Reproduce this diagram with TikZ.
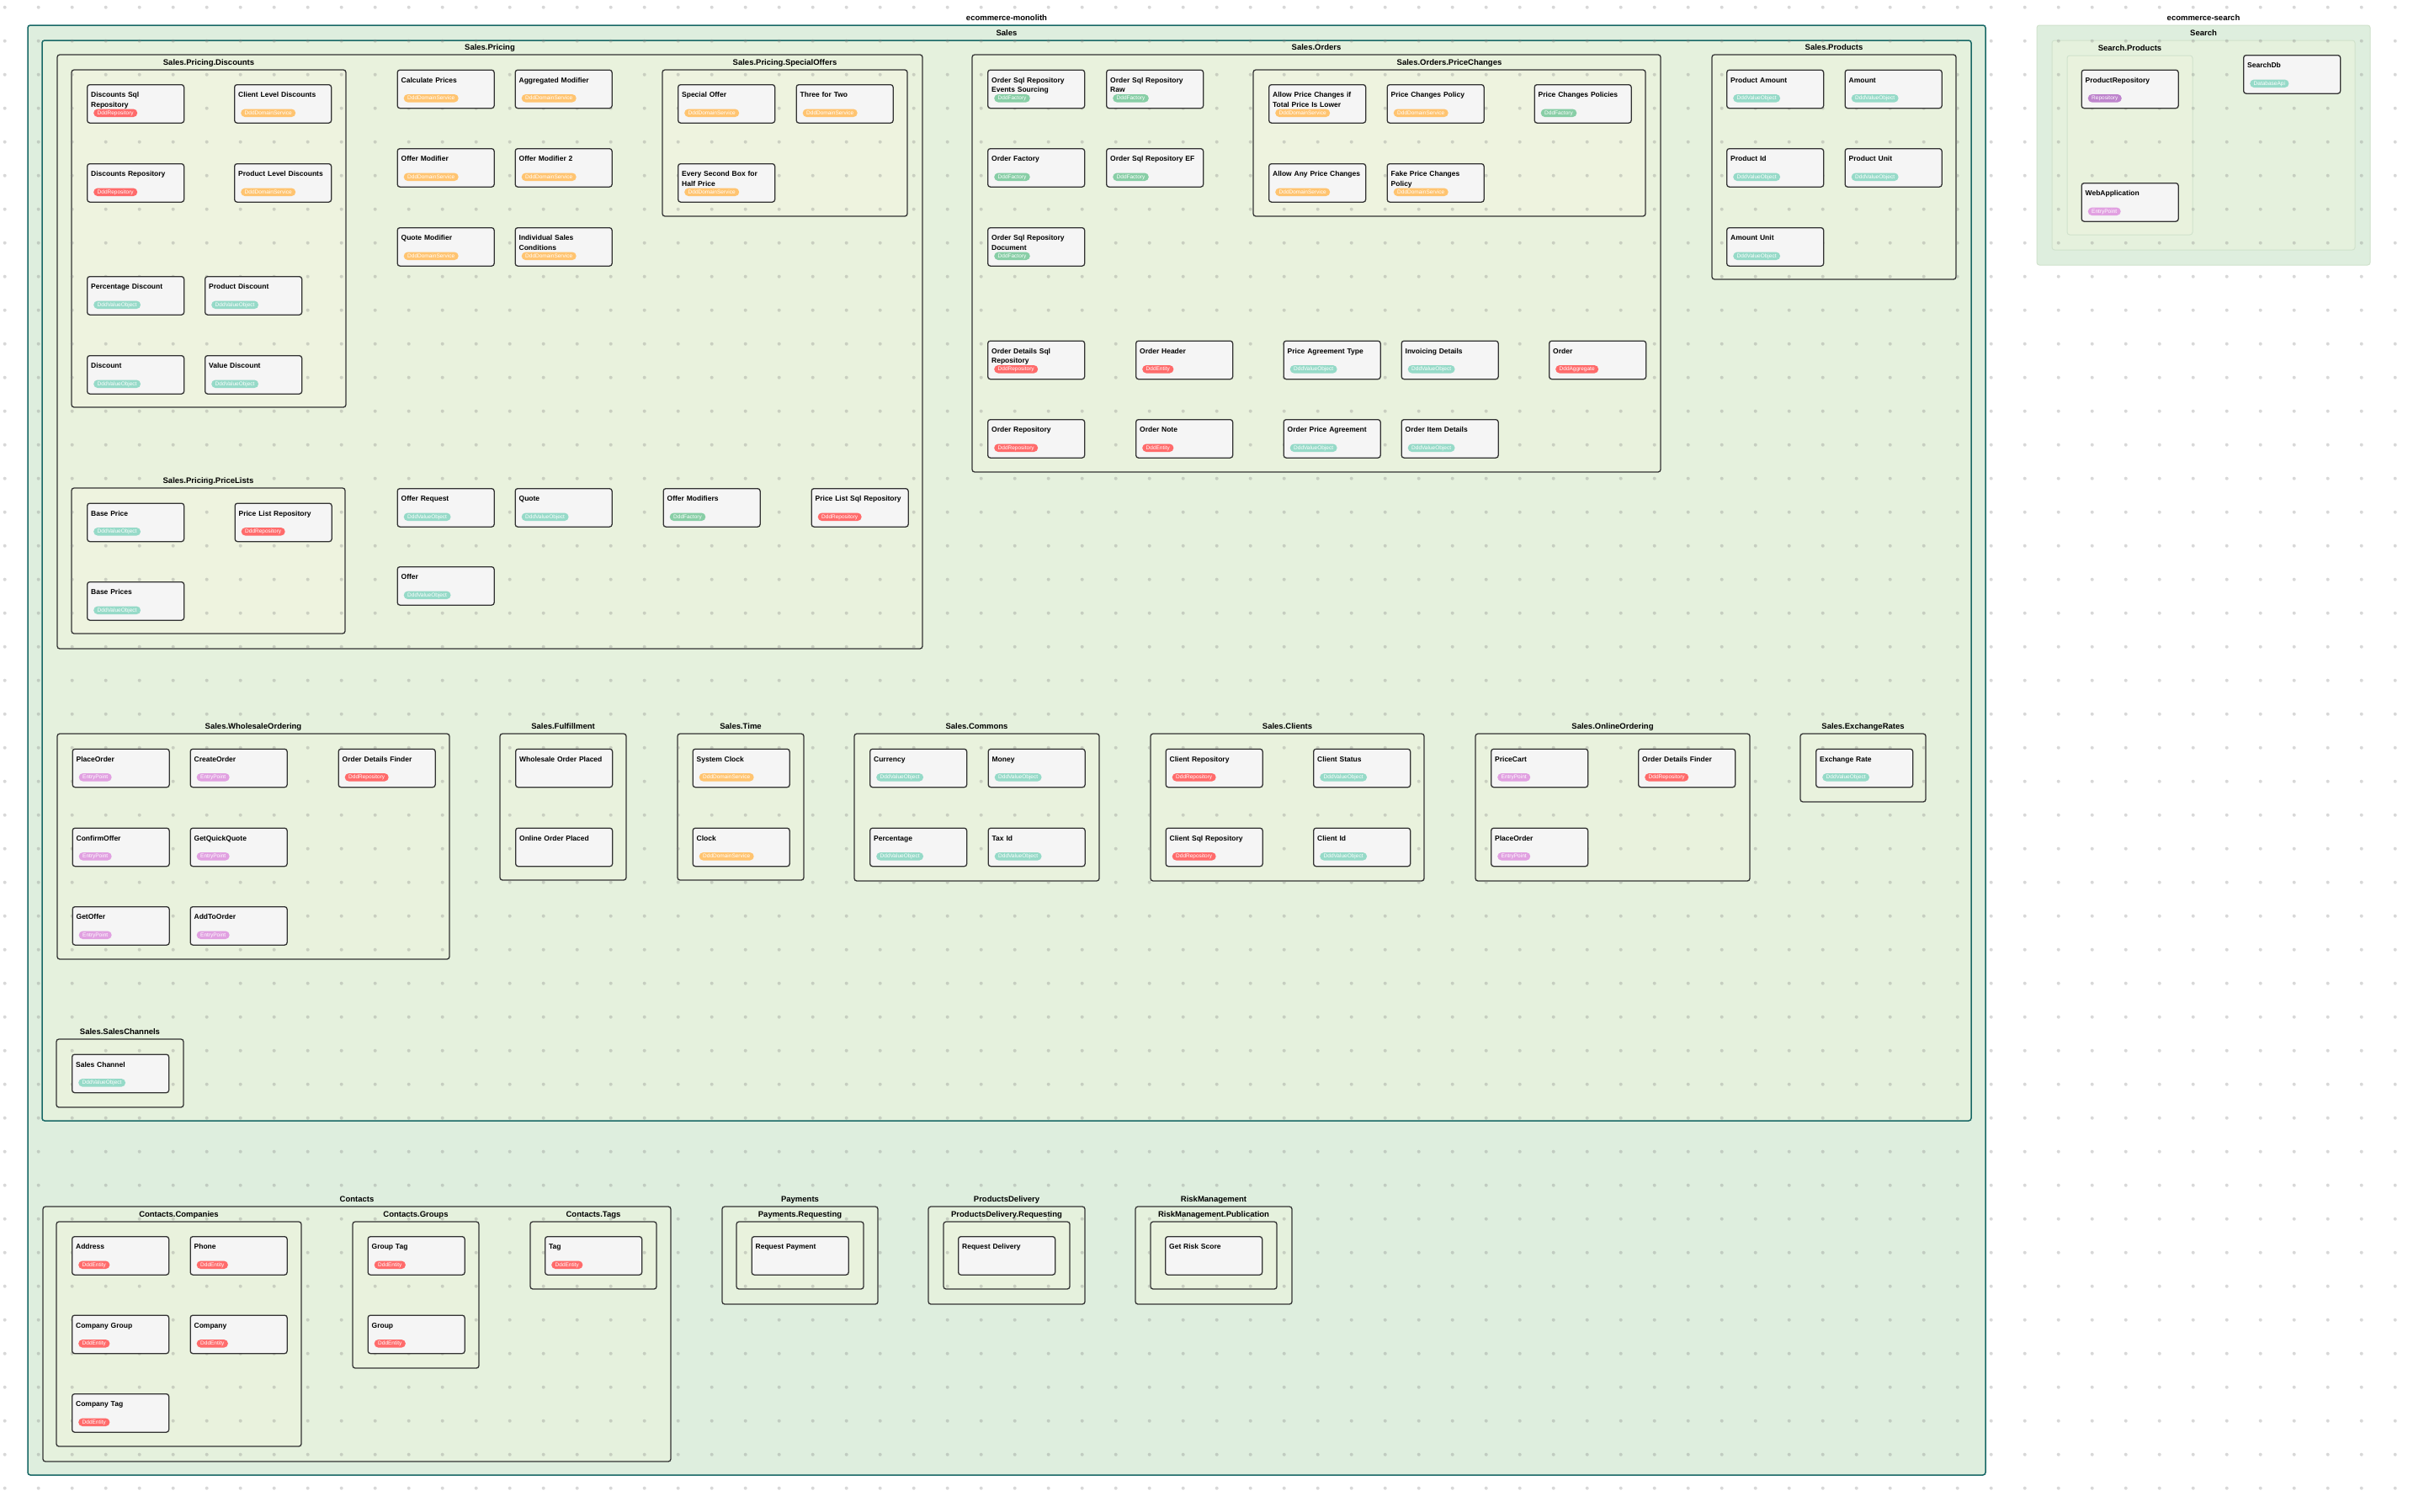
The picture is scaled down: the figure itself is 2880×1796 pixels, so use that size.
\documentclass[tikz,border=0pt]{standalone}
\usepackage{fontspec}
\setmainfont{Liberation Sans}
\usepackage{tikz}
\usetikzlibrary{fit, positioning}
\definecolor{tealline}{RGB}{24,104,102}
\definecolor{lvlone}{RGB}{222,238,222}
\definecolor{lvltwo}{RGB}{229,241,221}
\definecolor{lvlthree}{RGB}{233,242,221}
\definecolor{lvlfour}{RGB}{238,243,223}
\definecolor{faintline}{RGB}{208,226,204}
\definecolor{compfill}{RGB}{245,245,245}
\definecolor{tagred}{RGB}{255,107,107}
\definecolor{tagorange}{RGB}{255,196,112}
\definecolor{tagteal}{RGB}{150,218,200}
\definecolor{taggreen}{RGB}{136,206,166}
\definecolor{tagpink}{RGB}{225,160,225}
\definecolor{tagpurple}{RGB}{190,132,205}

\begin{document}
\begin{tikzpicture}[
    x=1pt, y=-1pt,
    comp/.style={rectangle, draw=black!80, line width=1.3pt, fill=compfill,
                 rounded corners=3pt, anchor=north west,
                 minimum width=115pt, minimum height=45.5pt,
                 inner xsep=4.5pt, inner ysep=4pt, text width=106pt, align=left,
                 text height=11pt, text depth=26.5pt,
                 font=\bfseries\fontsize{8.5}{11.7}\selectfont},
    badge/.style={rectangle, rounded corners=4.7pt, text=white, anchor=west,
                  inner xsep=4.5pt, inner ysep=0pt, minimum height=9.5pt,
                  text height=4.9pt, text depth=1.4pt, xshift=8pt, yshift=12.5pt,
                  font=\fontsize{6.5}{7}\selectfont},
    repo/.style={label={[badge, fill=tagred]south west:DddRepository}},
    ent/.style={label={[badge, fill=tagred]south west:DddEntity}},
    aggr/.style={label={[badge, fill=tagred]south west:DddAggregate}},
    dsvc/.style={label={[badge, fill=tagorange]south west:DddDomainService}},
    vobj/.style={label={[badge, fill=tagteal]south west:DddValueObject}},
    fact/.style={label={[badge, fill=taggreen]south west:DddFactory}},
    entry/.style={label={[badge, fill=tagpink]south west:EntryPoint}},
    plainrepo/.style={label={[badge, fill=tagpurple]south west:Repository}},
    dbapi/.style={label={[badge, fill=tagteal]south west:DatabaseApi}},
    pkg/.style={rectangle, draw=black!80, line width=1.3pt, rounded corners=3pt, inner sep=0pt},
    faintpkg/.style={rectangle, draw=faintline, line width=1pt, rounded corners=3pt, inner sep=0pt},
    pkgtitle/.style={inner sep=0pt, text height=7pt, text depth=2pt, yshift=3pt,
                     font=\bfseries\fontsize{9.5}{11}\selectfont},
    dot/.style={fill=black!50, opacity=.3}
]
\useasboundingbox (0,0) rectangle (2880,1796);
\fill[white] (0,0) rectangle (2880,1796);

\node[pkg, draw=tealline, line width=1.5pt, fill=lvlone, fit={(33,30) (2359,1753)},
      label={[pkgtitle]above:ecommerce-monolith}] (monolith) {};
\node[pkg, draw=tealline, line width=1.5pt, fill=lvltwo, fit={(50,48) (2342,1332)},
      label={[pkgtitle]above:Sales}] (sales) {};
\node[pkg, fill=lvlthree, fit={(68,65) (1096,771)}, label={[pkgtitle]above:Sales.Pricing}] (pricing) {};
\node[pkg, fill=lvlfour, fit={(85,83) (411,484)}, label={[pkgtitle]above:Sales.Pricing.Discounts}] (discounts) {};
\node[pkg, fill=lvlfour, fit={(787,83) (1078,257)}, label={[pkgtitle]above:Sales.Pricing.SpecialOffers}] (specialoffers) {};
\node[pkg, fill=lvlfour, fit={(85,580) (410,753)}, label={[pkgtitle]above:Sales.Pricing.PriceLists}] (pricelists) {};
\node[pkg, fill=lvlthree, fit={(1155,65) (1973,561)}, label={[pkgtitle]above:Sales.Orders}] (orders) {};
\node[pkg, fill=lvlfour, fit={(1489,83) (1955,257)}, label={[pkgtitle]above:Sales.Orders.PriceChanges}] (pricechanges) {};
\node[pkg, fill=lvlthree, fit={(2034,65) (2324,332)}, label={[pkgtitle]above:Sales.Products}] (products) {};
\node[pkg, fill=lvlthree, fit={(68,872) (534,1140)}, label={[pkgtitle]above:Sales.WholesaleOrdering}] (wholesale) {};
\node[pkg, fill=lvlthree, fit={(594,872) (744,1046)}, label={[pkgtitle]above:Sales.Fulfillment}] (fulfillment) {};
\node[pkg, fill=lvlthree, fit={(805,872) (955,1046)}, label={[pkgtitle]above:Sales.Time}] (time) {};
\node[pkg, fill=lvlthree, fit={(1015,872) (1306,1047)}, label={[pkgtitle]above:Sales.Commons}] (commons) {};
\node[pkg, fill=lvlthree, fit={(1367,872) (1692,1047)}, label={[pkgtitle]above:Sales.Clients}] (clients) {};
\node[pkg, fill=lvlthree, fit={(1753,872) (2079,1047)}, label={[pkgtitle]above:Sales.OnlineOrdering}] (online) {};
\node[pkg, fill=lvlthree, fit={(2139,872) (2288,953)}, label={[pkgtitle]above:Sales.ExchangeRates}] (exchange) {};
\node[pkg, fill=lvlthree, fit={(67,1235) (218,1316)}, label={[pkgtitle]above:Sales.SalesChannels}] (channels) {};
\node[pkg, fill=lvltwo, fit={(51,1434) (797,1737)}, label={[pkgtitle]above:Contacts}] (contacts) {};
\node[pkg, fill=lvlthree, fit={(67,1452) (358,1719)}, label={[pkgtitle]above:Contacts.Companies}] (companies) {};
\node[pkg, fill=lvlthree, fit={(419,1452) (569,1626)}, label={[pkgtitle]above:Contacts.Groups}] (groups) {};
\node[pkg, fill=lvlthree, fit={(630,1452) (780,1532)}, label={[pkgtitle]above:Contacts.Tags}] (tags) {};
\node[pkg, fill=lvltwo, fit={(858,1434) (1043,1550)}, label={[pkgtitle]above:Payments}] (payments) {};
\node[pkg, fill=lvlthree, fit={(875,1452) (1026,1532)}, label={[pkgtitle]above:Payments.Requesting}] (payreq) {};
\node[pkg, fill=lvltwo, fit={(1103,1434) (1289,1550)}, label={[pkgtitle]above:ProductsDelivery}] (delivery) {};
\node[pkg, fill=lvlthree, fit={(1121,1452) (1271,1532)}, label={[pkgtitle]above:ProductsDelivery.Requesting}] (delreq) {};
\node[pkg, fill=lvltwo, fit={(1349,1434) (1535,1550)}, label={[pkgtitle]above:RiskManagement}] (risk) {};
\node[pkg, fill=lvlthree, fit={(1367,1452) (1517,1532)}, label={[pkgtitle]above:RiskManagement.Publication}] (riskpub) {};
\node[faintpkg, fill=lvlone, fit={(2420,30) (2816,315)}, label={[pkgtitle]above:ecommerce-search}] (searchapp) {};
\node[faintpkg, fill=lvltwo, fit={(2438,48) (2798,297)}, label={[pkgtitle]above:Search}] (search) {};
\node[faintpkg, fill=lvlthree, fit={(2456,66) (2605,279)}, label={[pkgtitle]above:Search.Products}] (searchproducts) {};

\foreach \i in {0,...,71}
  \foreach \j in {0,...,44}
    \fill[dot] (5.7+40*\i, 8.7+40*\j) circle (2pt);

\node[comp, repo] (dscsql) at (103,100) {Discounts Sql\\Repository};
\node[comp, dsvc] (clientdsc) at (278,100) {Client Level Discounts};
\node[comp, repo] (dscrepo) at (103,194) {Discounts Repository};
\node[comp, dsvc] (productdsc) at (278,194) {Product Level Discounts};
\node[comp, vobj] (pctdsc) at (103,328) {Percentage Discount};
\node[comp, vobj] (proddsc) at (243,328) {Product Discount};
\node[comp, vobj] (dsc) at (103,422) {Discount};
\node[comp, vobj] (valdsc) at (243,422) {Value Discount};

\node[comp, dsvc] (calcprices) at (471.5,82.5) {Calculate Prices};
\node[comp, dsvc] (aggmod) at (611.5,82.5) {Aggregated Modifier};
\node[comp, dsvc] (offermod) at (471.5,176) {Offer Modifier};
\node[comp, dsvc] (offermodtwo) at (611.5,176) {Offer Modifier 2};
\node[comp, dsvc] (quotemod) at (471.5,270) {Quote Modifier};
\node[comp, dsvc] (indcond) at (611.5,270) {Individual Sales\\Conditions};
\node[comp, dsvc] (specoffer) at (805,100) {Special Offer};
\node[comp, dsvc] (threefortwo) at (945.5,100) {Three for Two};
\node[comp, dsvc] (secondbox) at (805,194) {Every Second Box for\\Half Price};
\node[comp, vobj] (baseprice) at (103,597.5) {Base Price};
\node[comp, repo] (plrepo) at (278.5,597.5) {Price List Repository};
\node[comp, vobj] (baseprices) at (103,691) {Base Prices};
\node[comp, vobj] (offerreq) at (471.5,580) {Offer Request};
\node[comp, vobj] (quote) at (611.5,580) {Quote};
\node[comp, fact] (offermods) at (787.5,580) {Offer Modifiers};
\node[comp, repo] (plsqlrepo) at (963.5,580) {Price List Sql Repository};
\node[comp, vobj] (offer) at (471.5,673) {Offer};

\node[comp, fact] (ordsqles) at (1173,82.5) {Order Sql Repository\\Events Sourcing};
\node[comp, fact] (ordsqlraw) at (1314,82.5) {Order Sql Repository\\Raw};
\node[comp, fact] (ordfactory) at (1173,176) {Order Factory};
\node[comp, fact] (ordsqlef) at (1314,176) {Order Sql Repository EF};
\node[comp, fact] (ordsqldoc) at (1173,270) {Order Sql Repository\\Document};
\node[comp, dsvc] (allowlower) at (1507,100) {Allow Price Changes if\\Total Price Is Lower};
\node[comp, dsvc] (pcpolicy) at (1647.5,100) {Price Changes Policy};
\node[comp, fact] (pcpolicies) at (1822.5,100) {Price Changes Policies};
\node[comp, dsvc] (allowany) at (1507,194) {Allow Any Price Changes};
\node[comp, dsvc] (fakepolicy) at (1647.5,194) {Fake Price Changes\\Policy};
\node[comp, repo] (orddetsql) at (1173,404.5) {Order Details Sql\\Repository};
\node[comp, ent] (ordheader) at (1349,404.5) {Order Header};
\node[comp, vobj] (agreetype) at (1524.5,404.5) {Price Agreement Type};
\node[comp, vobj] (invoicing) at (1664.5,404.5) {Invoicing Details};
\node[comp, aggr] (order) at (1840,404.5) {Order};
\node[comp, repo] (ordrepo) at (1173,498) {Order Repository};
\node[comp, ent] (ordnote) at (1349,498) {Order Note};
\node[comp, vobj] (ordagree) at (1524.5,498) {Order Price Agreement};
\node[comp, vobj] (orditem) at (1664.5,498) {Order Item Details};

\node[comp, vobj] (prodamount) at (2051,82.5) {Product Amount};
\node[comp, vobj] (amount) at (2191.5,82.5) {Amount};
\node[comp, vobj] (prodid) at (2051,176) {Product Id};
\node[comp, vobj] (produnit) at (2191.5,176) {Product Unit};
\node[comp, vobj] (amountunit) at (2051,270) {Amount Unit};

\node[comp, entry] (wplace) at (85.5,889.5) {PlaceOrder};
\node[comp, entry] (wcreate) at (225.5,889.5) {CreateOrder};
\node[comp, repo] (wfinder) at (401.5,889.5) {Order Details Finder};
\node[comp, entry] (wconfirm) at (85.5,983.5) {ConfirmOffer};
\node[comp, entry] (wquick) at (225.5,983.5) {GetQuickQuote};
\node[comp, entry] (wgetoffer) at (85.5,1077) {GetOffer};
\node[comp, entry] (waddto) at (225.5,1077) {AddToOrder};
\node[comp] (wplaced) at (612,889.5) {Wholesale Order Placed};
\node[comp] (oplaced) at (612,983.5) {Online Order Placed};
\node[comp, dsvc] (sysclock) at (822.5,889.5) {System Clock};
\node[comp, dsvc] (clock) at (822.5,983.5) {Clock};
\node[comp, vobj] (currency) at (1033,889.5) {Currency};
\node[comp, vobj] (money) at (1173.5,889.5) {Money};
\node[comp, vobj] (percentage) at (1033,983.5) {Percentage};
\node[comp, vobj] (taxid) at (1173.5,983.5) {Tax Id};
\node[comp, repo] (clientrepo) at (1384.5,889.5) {Client Repository};
\node[comp, vobj] (clientstatus) at (1560,889.5) {Client Status};
\node[comp, repo] (clientsql) at (1384.5,983.5) {Client Sql Repository};
\node[comp, vobj] (clientid) at (1560,983.5) {Client Id};
\node[comp, entry] (pricecart) at (1771,889.5) {PriceCart};
\node[comp, repo] (ofinder) at (1946,889.5) {Order Details Finder};
\node[comp, entry] (oplace) at (1771,983.5) {PlaceOrder};
\node[comp, vobj] (exrate) at (2157,889.5) {Exchange Rate};
\node[comp, vobj] (saleschan) at (85,1252.5) {Sales Channel};

\node[comp, ent] (address) at (85,1469) {Address};
\node[comp, ent] (phone) at (225.5,1469) {Phone};
\node[comp, ent] (compgroup) at (85,1562.5) {Company Group};
\node[comp, ent] (company) at (225.5,1562.5) {Company};
\node[comp, ent] (comptag) at (85,1656) {Company Tag};
\node[comp, ent] (grouptag) at (436.5,1469) {Group Tag};
\node[comp, ent] (group) at (436.5,1562.5) {Group};
\node[comp, ent] (tag) at (647,1469) {Tag};
\node[comp] (reqpay) at (892.5,1469) {Request Payment};
\node[comp] (reqdel) at (1138,1469) {Request Delivery};
\node[comp] (riskscore) at (1384,1469) {Get Risk Score};

\node[comp, plainrepo] (prodrepo) at (2472.5,82.5) {ProductRepository};
\node[comp, entry] (webapp) at (2472.5,217) {WebApplication};
\node[comp, dbapi] (searchdb) at (2665,65) {SearchDb};
\end{tikzpicture}
\end{document}
